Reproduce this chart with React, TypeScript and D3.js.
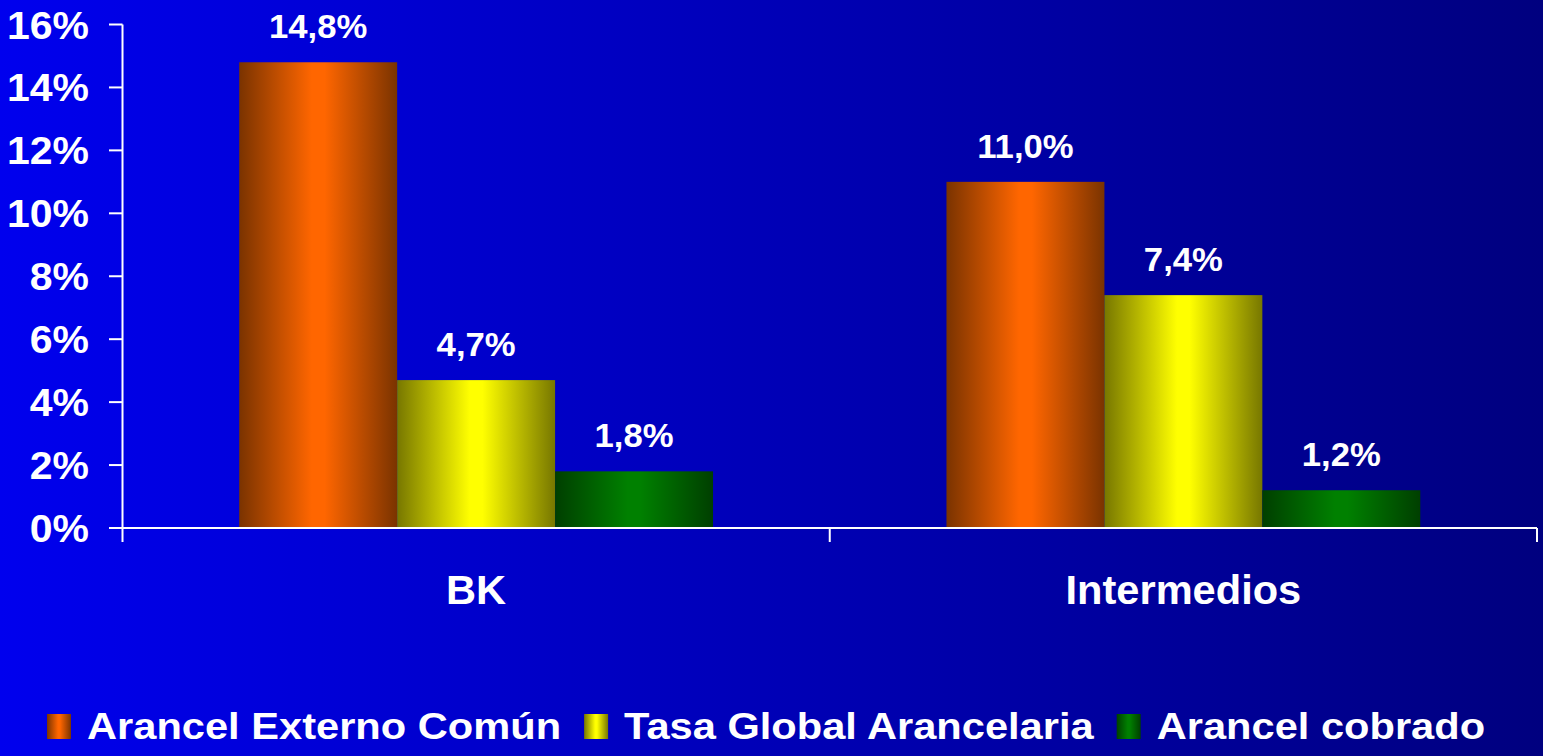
import React, { useEffect, useRef } from "react";
import * as d3 from "d3";

const categories = ["BK", "Intermedios"];
const seriesNames = ["Arancel Externo Común", "Tasa Global Arancelaria", "Arancel cobrado"];
const aecValues = [14.8, 11.0];
const tgaValues = [4.7, 7.4];
const cobradoValues = [1.8, 1.2];
const yTicks = [0, 2, 4, 6, 8, 10, 12, 14, 16];

const seriesValues = [aecValues, tgaValues, cobradoValues];
const seriesColors = [
  { dark: "#7a3300", light: "#ff6600" },
  { dark: "#777700", light: "#ffff00" },
  { dark: "#003f00", light: "#008000" },
];

const W = 1543;
const H = 756;
const FONT = "'Liberation Sans', Arial, Helvetica, sans-serif";

export default function App() {
  const ref = useRef<SVGSVGElement>(null);

  useEffect(() => {
    document.body.style.margin = "0";
    const svg = d3.select(ref.current);
    svg.selectAll("*").remove();

    const defs = svg.append("defs");
    const bg = defs.append("linearGradient").attr("id", "bg").attr("x1", "0").attr("x2", "1").attr("y1", "0").attr("y2", "0");
    bg.append("stop").attr("offset", "0").attr("stop-color", "#0000ee");
    bg.append("stop").attr("offset", "1").attr("stop-color", "#00007f");

    seriesColors.forEach((c, i) => {
      const g = defs.append("linearGradient").attr("id", "g" + i).attr("x1", "0").attr("x2", "1").attr("y1", "0").attr("y2", "0");
      g.append("stop").attr("offset", "0").attr("stop-color", c.dark);
      g.append("stop").attr("offset", "0.46").attr("stop-color", c.light);
      g.append("stop").attr("offset", "0.54").attr("stop-color", c.light);
      g.append("stop").attr("offset", "1").attr("stop-color", c.dark);
    });

    svg.append("rect").attr("width", W).attr("height", H).attr("fill", "url(#bg)");

    const plotLeft = 122.5;
    const plotRight = 1537;
    const x0 = d3.scaleBand<string>().domain(categories).range([plotLeft, plotRight]).padding(0);
    const x1 = d3
      .scaleBand<number>()
      .domain([0, 1, 2])
      .range([0, x0.bandwidth()])
      .paddingInner(0)
      .paddingOuter(0.739);
    const y = d3.scaleLinear().domain([0, 16]).range([528, 24.5]);

    // bars
    categories.forEach((cat, ci) => {
      seriesValues.forEach((vals, si) => {
        const bx = (x0(cat) as number) + (x1(si) as number);
        svg
          .append("rect")
          .attr("x", bx)
          .attr("y", y(vals[ci]))
          .attr("width", x1.bandwidth())
          .attr("height", y(0) - y(vals[ci]))
          .attr("fill", `url(#g${si})`);
      });
    });

    // axes
    const white = "#ffffff";
    svg.append("line").attr("x1", plotLeft).attr("x2", plotLeft).attr("y1", y(16)).attr("y2", 542)
      .attr("stroke", white).attr("stroke-width", 2);
    svg.append("line").attr("x1", 109).attr("x2", plotRight).attr("y1", y(0)).attr("y2", y(0))
      .attr("stroke", white).attr("stroke-width", 2);
    yTicks.forEach((t) => {
      svg.append("line").attr("x1", 109).attr("x2", plotLeft).attr("y1", y(t)).attr("y2", y(t))
        .attr("stroke", white).attr("stroke-width", 2);
      svg.append("text")
        .attr("transform", `translate(89,${y(t) + 14}) scale(1.05,1)`)
        .attr("text-anchor", "end")
        .attr("font-family", FONT)
        .attr("font-weight", "bold")
        .attr("font-size", 39)
        .attr("fill", white)
        .text(`${t}%`);
    });
    [...categories.map((c) => x0(c) as number), plotRight].forEach((tx, i) => {
      if (i === 0) return;
      svg.append("line").attr("x1", tx).attr("x2", tx).attr("y1", y(0)).attr("y2", 542)
        .attr("stroke", white).attr("stroke-width", 2);
    });

    // category labels
    categories.forEach((cat) => {
      const cx = (x0(cat) as number) + x0.bandwidth() / 2;
      svg.append("text")
        .attr("transform", `translate(${cx},604) scale(1.04,1)`)
        .attr("text-anchor", "middle")
        .attr("font-family", FONT)
        .attr("font-weight", "bold")
        .attr("font-size", 40)
        .attr("fill", white)
        .text(cat);
    });

    // value labels
    categories.forEach((cat, ci) => {
      seriesValues.forEach((vals, si) => {
        const cx = (x0(cat) as number) + (x1(si) as number) + x1.bandwidth() / 2;
        svg.append("text")
          .attr("transform", `translate(${cx},${y(vals[ci]) - 24}) scale(1.02,1)`)
          .attr("text-anchor", "middle")
          .attr("font-family", FONT)
          .attr("font-weight", "bold")
          .attr("font-size", 34)
          .attr("fill", white)
          .text(vals[ci].toFixed(1).replace(".", ",") + "%");
      });
    });

    // legend
    let lx = 47;
    const sx = 1.125;
    seriesNames.forEach((name, si) => {
      svg.append("rect").attr("x", lx).attr("y", 714).attr("width", 24).attr("height", 25)
        .attr("fill", `url(#g${si})`);
      lx += 24 + 16;
      const t = svg.append("text")
        .attr("transform", `translate(${lx},739) scale(${sx},1)`)
        .attr("font-family", FONT)
        .attr("font-weight", "bold")
        .attr("font-size", 37)
        .attr("fill", white)
        .text(name);
      const len = (t.node() as SVGTextElement).getComputedTextLength() * sx;
      lx += len + 23;
    });
  }, []);

  return (
    <svg
      ref={ref}
      width={W}
      height={H}
      style={{ position: "absolute", left: 0, top: 0, display: "block" }}
    />
  );
}
